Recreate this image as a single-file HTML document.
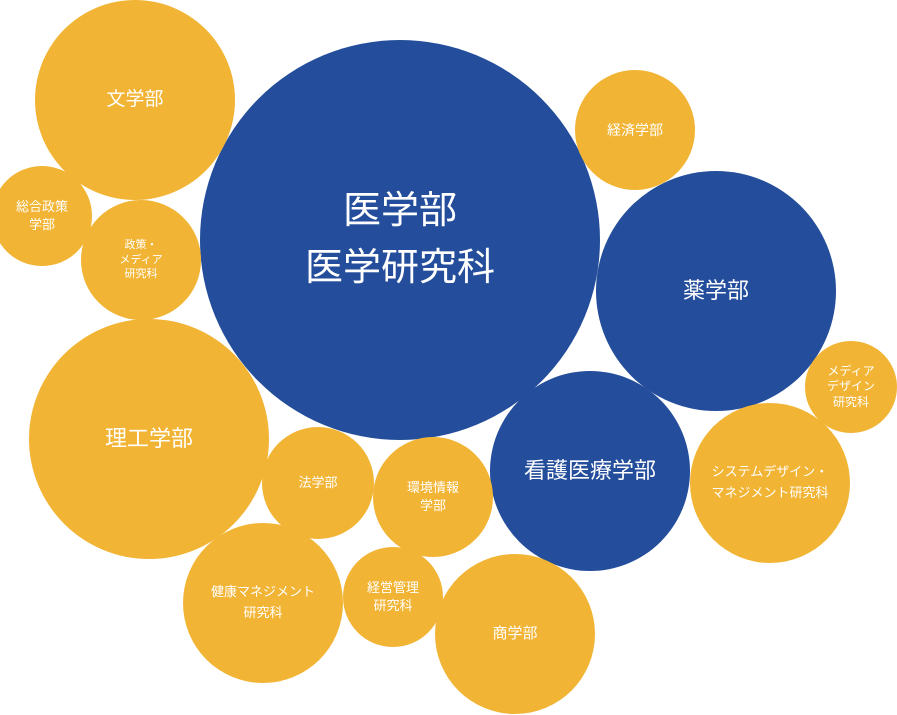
<!DOCTYPE html>
<html><head><meta charset="utf-8"><style>
html,body{margin:0;padding:0;background:#fff;}
body{width:897px;height:715px;position:relative;overflow:hidden;font-family:"Liberation Sans","Noto Sans CJK JP",sans-serif;}
.c{position:absolute;border-radius:50%;display:flex;align-items:center;justify-content:center;text-align:center;color:#fff;line-height:1.35;}
.o{background:#F2B434;}
.b{background:#244E9B;}
</style></head><body>
<div class="c b" style="left:200px;top:40px;width:400px;height:400px;font-size:38px;line-height:1.5">医学部<br>医学研究科</div>
<div class="c b" style="left:596px;top:171px;width:240px;height:240px;font-size:22px">薬学部</div>
<div class="c b" style="left:490px;top:371px;width:200px;height:200px;font-size:22px">看護医療学部</div>
<div class="c o" style="left:35px;top:0px;width:200px;height:200px;font-size:19px">文学部</div>
<div class="c o" style="left:575px;top:70px;width:120px;height:120px;font-size:14px">経済学部</div>
<div class="c o" style="left:-8px;top:166px;width:100px;height:100px;font-size:13px">総合政策<br>学部</div>
<div class="c o" style="left:81px;top:200px;width:120px;height:120px;font-size:11px">政策・<br>メディア<br>研究科</div>
<div class="c o" style="left:805px;top:341px;width:92px;height:92px;font-size:12px;line-height:1.3">メディア<br>デザイン<br>研究科</div>
<div class="c o" style="left:29px;top:319px;width:240px;height:240px;font-size:22px">理工学部</div>
<div class="c o" style="left:262px;top:427px;width:112px;height:112px;font-size:13px">法学部</div>
<div class="c o" style="left:373px;top:437px;width:120px;height:120px;font-size:13px">環境情報<br>学部</div>
<div class="c o" style="left:690px;top:403px;width:160px;height:160px;font-size:13px;line-height:1.6">システムデザイン・<br>マネジメント研究科</div>
<div class="c o" style="left:183px;top:523px;width:160px;height:160px;font-size:13px;line-height:1.6">健康マネジメント<br>研究科</div>
<div class="c o" style="left:343px;top:547px;width:100px;height:100px;font-size:13px">経営管理<br>研究科</div>
<div class="c o" style="left:435px;top:554px;width:160px;height:160px;font-size:15px">商学部</div>
</body></html>
